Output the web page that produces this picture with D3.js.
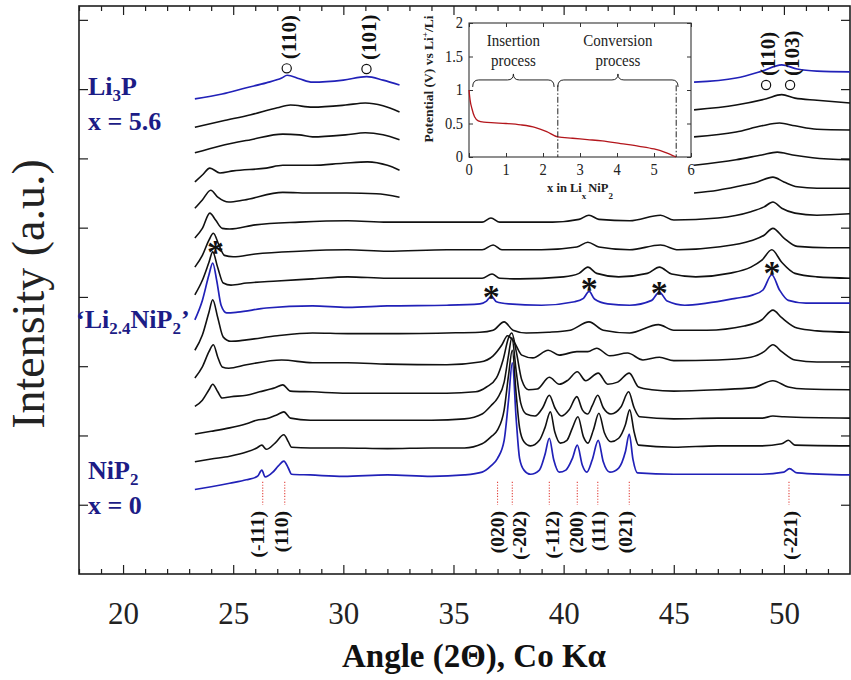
<!DOCTYPE html>
<html>
<head>
<meta charset="utf-8">
<script src="https://cdn.jsdelivr.net/npm/d3@7"></script>
<style>
  body { margin: 0; background: #fff; }
  svg { display: block; font-family: "Liberation Serif", "Times New Roman", serif; }
</style>
</head>
<body>
<svg id="chart" width="851" height="680"></svg>
<script>
// ---------------------------------------------------------------
// In-situ XRD scans of NiP2 during lithiation (Co K-alpha).
// Each scan: [2theta, intensity (a.u.)] relative to its own offset.
// scan01 = NiP2 (x = 0) ... scan15 = Li3P (x = 5.6).
// A null intensity marks where the scan is hidden behind the inset.
// ---------------------------------------------------------------
const scan01 = [[23.26,0],[24.0,0.04],[24.84,0.09],[25.6,0.14],[26.1,0.19],[26.3,0.28],[26.45,0.18],[26.8,0.25],[27.05,0.34],[27.3,0.41],[27.5,0.31],[27.65,0.22],[28.5,0.21],[30,0.19],[32,0.21],[34,0.19],[35.5,0.21],[36.3,0.25],[36.7,0.34],[37.0,0.45],[37.3,0.71],[37.5,1.29],[37.67,1.83],[37.85,1.00],[38.0,0.45],[38.2,0.28],[38.5,0.22],[38.9,0.28],[39.15,0.50],[39.35,0.74],[39.55,0.43],[39.8,0.25],[40.1,0.28],[40.4,0.45],[40.62,0.64],[40.85,0.35],[41.05,0.25],[41.3,0.43],[41.57,0.71],[41.8,0.40],[42.1,0.25],[42.5,0.31],[42.8,0.54],[42.98,0.80],[43.15,0.43],[43.35,0.24],[45,0.22],[47,0.22],[49,0.22],[50.0,0.25],[50.25,0.30],[50.6,0.24],[53,0.21]];
const scan02 = [[23.26,0],[24.0,0.04],[24.84,0.08],[25.6,0.14],[26.07,0.20],[26.3,0.24],[26.5,0.18],[26.9,0.27],[27.3,0.39],[27.5,0.29],[27.65,0.21],[28.5,0.20],[30,0.20],[32,0.19],[34,0.20],[35.5,0.20],[36.3,0.26],[36.7,0.36],[37.0,0.46],[37.3,0.75],[37.5,1.25],[37.67,1.61],[37.85,0.96],[38.0,0.49],[38.2,0.29],[38.5,0.23],[38.9,0.31],[39.15,0.49],[39.4,0.72],[39.6,0.43],[39.85,0.27],[40.15,0.31],[40.4,0.49],[40.65,0.65],[40.9,0.36],[41.1,0.27],[41.35,0.46],[41.6,0.70],[41.85,0.42],[42.15,0.29],[42.5,0.34],[42.8,0.53],[43.0,0.75],[43.2,0.43],[43.4,0.24],[45,0.21],[47,0.23],[49,0.23],[49.9,0.26],[50.2,0.31],[50.5,0.24],[53,0.23]];
const scan03 = [[23.26,0],[24.0,0.04],[24.84,0.09],[25.6,0.15],[26.07,0.20],[26.5,0.22],[27.0,0.28],[27.3,0.32],[27.6,0.23],[28.5,0.20],[30,0.20],[32,0.20],[34,0.20],[35.5,0.22],[36.3,0.29],[36.7,0.41],[37.0,0.52],[37.3,0.75],[37.5,1.14],[37.65,1.39],[37.85,0.90],[38.05,0.45],[38.3,0.29],[38.7,0.26],[39.05,0.38],[39.35,0.56],[39.6,0.38],[39.9,0.26],[40.25,0.35],[40.6,0.54],[40.85,0.35],[41.1,0.29],[41.3,0.41],[41.55,0.56],[41.8,0.38],[42.15,0.29],[42.6,0.39],[42.95,0.61],[43.2,0.38],[43.45,0.25],[45,0.22],[47,0.23],[49,0.23],[49.5,0.26],[50,0.25],[53,0.23]];
const scan04 = [[23.26,0],[23.6,0.09],[23.9,0.24],[24.07,0.32],[24.3,0.21],[24.5,0.12],[24.9,0.14],[25.6,0.16],[26.2,0.21],[26.9,0.27],[27.25,0.31],[27.6,0.22],[28.6,0.21],[30.15,0.19],[32,0.19],[34.7,0.19],[36.0,0.21],[36.5,0.28],[36.95,0.41],[37.25,0.67],[37.5,0.99],[37.65,1.06],[37.85,0.79],[38.1,0.38],[38.4,0.24],[38.8,0.25],[39.35,0.42],[39.8,0.32],[40.2,0.38],[40.62,0.50],[41.0,0.37],[41.57,0.48],[42.0,0.32],[42.45,0.35],[42.98,0.48],[43.4,0.28],[44.0,0.24],[45,0.22],[47,0.24],[48.6,0.27],[49.5,0.37],[50.2,0.28],[51,0.25],[53,0.24]];
const scan05 = [[23.26,0.01],[23.6,0.17],[23.9,0.39],[24.1,0.49],[24.3,0.31],[24.5,0.17],[24.8,0.15],[25.6,0.20],[27.2,0.27],[28.6,0.23],[30.2,0.23],[32,0.21],[34.7,0.20],[36.2,0.24],[36.8,0.33],[37.2,0.49],[37.45,0.62],[37.75,0.53],[38.1,0.34],[38.6,0.30],[39.3,0.41],[39.8,0.34],[40.6,0.39],[41.1,0.39],[41.5,0.44],[42.1,0.33],[42.9,0.37],[43.6,0.27],[44.35,0.31],[45.0,0.26],[47,0.27],[48.5,0.31],[49.1,0.39],[49.5,0.49],[49.9,0.39],[50.5,0.27],[51.5,0.24],[53,0.24]];
const scan06 = [[23.26,0.01],[23.6,0.23],[23.9,0.56],[24.07,0.74],[24.3,0.48],[24.55,0.20],[24.9,0.14],[25.6,0.16],[27,0.22],[28.6,0.26],[30.2,0.25],[32,0.25],[34.7,0.26],[36.2,0.27],[36.8,0.30],[37.3,0.42],[37.7,0.30],[38.3,0.26],[39.3,0.27],[40.3,0.30],[41.15,0.42],[41.8,0.30],[43.0,0.26],[44.3,0.38],[45.0,0.30],[46.5,0.30],[48.2,0.36],[49.0,0.45],[49.5,0.59],[49.9,0.48],[50.6,0.33],[51.5,0.29],[53,0.27]];
const scan07 = [[23.26,0.05],[23.6,0.33],[23.9,0.70],[24.07,0.87],[24.25,0.62],[24.45,0.26],[24.7,0.15],[25.2,0.16],[26.5,0.22],[28.6,0.25],[30.2,0.23],[32,0.25],[34.7,0.26],[36.2,0.28],[36.5,0.32],[36.72,0.39],[36.95,0.31],[37.5,0.28],[39,0.26],[40.5,0.31],[40.9,0.36],[41.16,0.46],[41.4,0.35],[42,0.28],[43,0.26],[44.0,0.33],[44.34,0.45],[44.7,0.32],[45.5,0.26],[46.5,0.29],[47.8,0.36],[48.6,0.41],[49.05,0.48],[49.45,0.70],[49.8,0.48],[50.2,0.33],[51,0.29],[53,0.29]];
const scan08 = [[23.26,0.01],[23.6,0.22],[23.9,0.48],[24.07,0.63],[24.3,0.40],[24.55,0.18],[24.9,0.15],[25.6,0.18],[27,0.21],[28.6,0.24],[30.2,0.27],[32,0.25],[34.7,0.25],[36.3,0.25],[36.75,0.31],[37.1,0.25],[38,0.24],[40,0.27],[40.7,0.32],[41.1,0.41],[41.5,0.32],[42.5,0.27],[43.8,0.32],[44.35,0.41],[44.9,0.31],[46,0.27],[47.5,0.32],[48.5,0.41],[49.0,0.51],[49.45,0.66],[49.9,0.48],[50.5,0.32],[51.5,0.27],[53,0.25]];
const scan09 = [[23.26,0.01],[23.6,0.18],[23.9,0.40],[24.1,0.50],[24.35,0.33],[24.6,0.18],[25.0,0.16],[26,0.20],[28,0.24],[30.2,0.26],[32,0.24],[34.7,0.26],[36.3,0.26],[36.8,0.33],[37.2,0.26],[39,0.26],[40.6,0.30],[41.1,0.37],[41.6,0.30],[43,0.26],[44.4,0.33],[45.2,0.26],[47,0.30],[48.5,0.39],[49.1,0.47],[49.5,0.57],[50.0,0.43],[50.6,0.31],[52,0.29],[53,0.29]];
const scan10 = [[23.26,0.03],[23.6,0.17],[23.94,0.39],[24.2,0.29],[24.5,0.17],[24.84,0.16],[26,0.22],[28,0.26],[30.2,0.28],[32,0.26],[34.7,0.26],[36.3,0.26],[36.7,0.32],[37.1,0.26],[39.5,0.26],[40.7,0.30],[41.15,0.36],[41.6,0.30],[43,0.28],[44.4,0.36],[45,0.29],[47,0.32],[48.5,0.41],[49.1,0.48],[49.5,0.55],[49.9,0.46],[50.5,0.39],[51.5,0.36],[53,0.38]];
const scan11 = [[23.26,0.06],[23.6,0.18],[23.98,0.32],[24.3,0.22],[24.8,0.15],[25.5,0.18],[27.25,0.29],[28.6,0.28],[30.15,0.28],[31.5,0.27],[32.55,0.22],[39,null],[45.92,0.28],[47.0,0.32],[47.83,0.37],[48.8,0.44],[49.5,0.51],[50.0,0.44],[50.6,0.37],[51.5,0.35],[53,0.35]];
const scan12 = [[23.26,0.04],[23.6,0.14],[23.94,0.24],[24.4,0.17],[25,0.20],[26.5,0.24],[27.25,0.28],[28.6,0.28],[30.0,0.31],[31.1,0.33],[32.0,0.28],[32.55,0.21],[39,null],[45.92,0.28],[47.83,0.36],[49.0,0.43],[49.7,0.47],[50.4,0.43],[51.3,0.39],[53,0.36]];
const scan13 = [[23.26,0.06],[24.4,0.16],[25.8,0.25],[27.25,0.33],[28.0,0.32],[28.6,0.29],[30.1,0.32],[31.0,0.35],[31.8,0.32],[32.55,0.25],[39,null],[45.92,0.29],[47.83,0.36],[49.0,0.45],[49.8,0.49],[50.5,0.45],[51.5,0.40],[53,0.39]];
const scan14 = [[23.26,0.03],[24.5,0.12],[25.8,0.21],[27.0,0.31],[27.6,0.35],[28.6,0.32],[30.1,0.35],[31.0,0.38],[31.8,0.34],[32.55,0.25],[39,null],[45.92,0.28],[47.83,0.35],[49.2,0.44],[49.9,0.50],[50.5,0.45],[51.5,0.42],[53,0.38]];
const scan15 = [[23.26,0.04],[24.5,0.11],[25.6,0.20],[26.5,0.27],[27.2,0.34],[27.45,0.38],[28.0,0.33],[28.6,0.28],[30.0,0.31],[31.06,0.36],[31.8,0.31],[32.55,0.24],[39,null],[45.92,0.28],[47.83,0.34],[49.0,0.44],[49.9,0.53],[50.6,0.47],[51.5,0.44],[53,0.43]];

const scans = [scan01, scan02, scan03, scan04, scan05, scan06, scan07, scan08,
               scan09, scan10, scan11, scan12, scan13, scan14, scan15];
// vertical stacking offset of every scan (a.u.)
const offsets = [1.22, 1.62, 2.02, 2.42, 2.82, 3.22, 3.62, 4.02, 4.42, 4.82, 5.22, 5.62, 6.02, 6.42, 6.82];
// scans of the pure / reference phases
const highlighted = [0, 6, 14];

// x-axis ticks
const majorTicks = [20, 25, 30, 35, 40, 45, 50];
const minorTicks = [18, 19, 21, 22, 23, 24, 26, 27, 28, 29, 31, 32, 33, 34, 36, 37, 38, 39, 41, 42, 43, 44, 46, 47, 48, 49, 51, 52];
const intensityTicks = [1, 2, 3, 4, 5, 6, 7, 8];

// NiP2 reflections (label columns are nudged apart where they crowd)
const nip2Hkl    = ["(-111)", "(110)", "(020)", "(-202)", "(-112)", "(200)", "(111)", "(021)", "(-221)"];
const nip2Angles = [26.34, 27.34, 37.0, 37.67, 39.35, 40.62, 41.55, 42.98, 50.23];
const nip2Nudge  = [-6, -4, 0, 7, 3, -1, 0, -4, 1];
// Li3P reflections (open circles) and their marker level
const li3pHkl    = ["(110)", "(101)", "(110)", "(103)"];
const li3pAngles = [27.43, 31.05, 49.19, 50.28];
const li3pLevels = [7.30, 7.29, 7.06, 7.06];
// reflections of the 'Li2.4NiP2' phase (asterisks)
const starAngles = [24.2, 36.72, 41.16, 44.34, 49.46];
const starLevels = [4.72, 4.07, 4.19, 4.13, 4.42];

// Inset: galvanostatic discharge curve
const liContent = [0, 0.03, 0.08, 0.15, 0.25, 0.4, 0.7, 1.0, 1.4, 1.8, 2.1, 2.4, 2.8, 3.2, 3.6, 4.1, 4.6, 5.0, 5.3, 5.6];
const potential = [1.0, 0.85, 0.72, 0.60, 0.54, 0.52, 0.51, 0.50, 0.48, 0.44, 0.38, 0.30, 0.28, 0.26, 0.24, 0.20, 0.16, 0.12, 0.07, 0.0];
const stageNames  = [["Insertion", "process"], ["Conversion", "process"]];
const stageRanges = [[0.1, 2.3], [2.4, 5.65]];
const stageLimits = [2.4, 5.6];

// ---------------------------------------------------------------
const svg = d3.select("#chart");
const X0 = 79, X1 = 850, Y0 = 6, Y1 = 574;
const x = d3.scaleLinear().domain([18, 53]).range([X0, X1]);
const y = d3.scaleLinear().domain([0, 8.2]).range([Y1, Y0]);
const INK = "#1e1e1e";
const BLUE = "#2121b8";
const NAVY = "#1c1c86";

// ---- axes (inward ticks on all four sides) ----
function styleAxis(g) {
  g.select(".domain").remove();
  g.selectAll(".tick line").attr("stroke", INK).attr("stroke-width", 1.2);
}
svg.append("g").attr("transform", `translate(0,${Y1})`)
  .call(d3.axisBottom(x).tickValues(majorTicks).tickSize(-9).tickPadding(28).tickFormat(d3.format("d")))
  .call(styleAxis)
  .call(g => g.selectAll("text").attr("font-size", 31).attr("fill", "#222")
    .attr("font-family", "Liberation Serif, serif"));
svg.append("g").attr("transform", `translate(0,${Y1})`)
  .call(d3.axisBottom(x).tickValues(minorTicks).tickSize(-5).tickFormat(""))
  .call(styleAxis);
svg.append("g").attr("transform", `translate(0,${Y0})`)
  .call(d3.axisTop(x).tickValues(majorTicks).tickSize(-9).tickFormat(""))
  .call(styleAxis);
svg.append("g").attr("transform", `translate(0,${Y0})`)
  .call(d3.axisTop(x).tickValues(minorTicks).tickSize(-5).tickFormat(""))
  .call(styleAxis);
svg.append("g").attr("transform", `translate(${X0},0)`)
  .call(d3.axisLeft(y).tickValues(intensityTicks).tickSize(-9).tickFormat(""))
  .call(styleAxis);
svg.append("g").attr("transform", `translate(${X1},0)`)
  .call(d3.axisRight(y).tickValues(intensityTicks).tickSize(-9).tickFormat(""))
  .call(styleAxis);

svg.append("rect").attr("x", X0).attr("y", Y0).attr("width", X1 - X0).attr("height", Y1 - Y0)
  .attr("fill", "none").attr("stroke", INK).attr("stroke-width", 1.6);

// ---- axis titles ----
svg.append("text").attr("x", 474).attr("y", 667).attr("text-anchor", "middle")
  .attr("font-size", 33).attr("font-weight", "bold").attr("fill", "#111")
  .text("Angle (2Θ), Co Kα");
svg.append("text").attr("transform", "translate(44,294) rotate(-90)").attr("text-anchor", "middle")
  .attr("font-size", 46).attr("fill", "#222")
  .text("Intensity (a.u.)");

// ---- stacked scans ----
const scanG = svg.append("g");
scans.forEach((scan, i) => {
  const line = d3.line()
    .defined(d => d[1] !== null)
    .x(d => x(d[0]))
    .y(d => y(offsets[i] + d[1]))
    .curve(d3.curveMonotoneX);
  const isRef = highlighted.includes(i);
  scanG.append("path").datum(scan)
    .attr("d", line)
    .attr("fill", "none")
    .attr("stroke", isRef ? BLUE : "#111")
    .attr("stroke-width", isRef ? 1.7 : 1.6)
    .attr("stroke-linejoin", "round");
});

// ---- NiP2 reflections: red dotted guides + rotated hkl ----
const hklG = svg.append("g");
nip2Angles.forEach((a, i) => {
  hklG.append("line")
    .attr("x1", x(a)).attr("x2", x(a))
    .attr("y1", y(1.33)).attr("y2", y(1.0))
    .attr("stroke", "#e0403a").attr("stroke-width", 1.1).attr("stroke-dasharray", "1.2,1.6");
  hklG.append("text")
    .attr("transform", `translate(${x(a) + nip2Nudge[i]},${y(0.91)}) rotate(-90)`)
    .attr("text-anchor", "end").attr("dy", "0.35em")
    .attr("font-size", 19.5).attr("font-weight", "bold").attr("fill", "#111")
    .text(nip2Hkl[i]);
});

// ---- Li3P reflections ----
li3pAngles.forEach((a, i) => {
  const cy = y(li3pLevels[i]);
  hklG.append("circle").attr("cx", x(a)).attr("cy", cy).attr("r", 4.6)
    .attr("fill", "#fff").attr("stroke", "#111").attr("stroke-width", 1.2);
  hklG.append("text")
    .attr("transform", `translate(${x(a) + 2},${cy - 9}) rotate(-90)`)
    .attr("text-anchor", "start").attr("dy", "0.35em")
    .attr("font-size", 21).attr("font-weight", "bold").attr("fill", "#111")
    .text(li3pHkl[i]);
});

// ---- 'Li2.4NiP2' reflections ----
starAngles.forEach((a, i) => {
  hklG.append("text").attr("x", x(a)).attr("y", y(starLevels[i]) + 16)
    .attr("text-anchor", "middle").attr("font-size", 34).attr("font-weight", "bold")
    .attr("fill", "#111").text("*");
});

// ---- phase labels ----
function phaseLabel(px, py, parts) {
  const t = svg.append("text").attr("x", px).attr("y", py)
    .attr("font-size", 26).attr("font-weight", "bold").attr("fill", NAVY);
  let shift = 0;
  parts.forEach(([txt, sub]) => {
    const dy = sub ? 6 - shift : -shift;
    shift = sub ? 6 : 0;
    t.append("tspan").attr("dy", dy).attr("font-size", sub ? 17 : 26).text(txt);
  });
}
phaseLabel(88, 95, [["Li", false], ["3", true], ["P", false]]);
phaseLabel(88, 130, [["x = 5.6", false]]);
phaseLabel(76, 328, [["‘Li", false], ["2.4", true], ["NiP", false], ["2", true], ["’", false]]);
phaseLabel(88, 479, [["NiP", false], ["2", true]]);
phaseLabel(88, 514, [["x = 0", false]]);

// ---- Inset: potential vs lithium content ----
const ix = d3.scaleLinear().domain([0, 6]).range([469, 691]);
const iy = d3.scaleLinear().domain([0, 2]).range([157, 23]);
const inset = svg.append("g");
inset.append("rect").attr("x", 469).attr("y", 23).attr("width", 222).attr("height", 134)
  .attr("fill", "#fff").attr("stroke", "#333").attr("stroke-width", 1.1);

function styleInset(g) {
  g.select(".domain").remove();
  g.selectAll(".tick line").attr("stroke", "#333").attr("stroke-width", 1);
}
inset.append("g").attr("transform", "translate(0,157)")
  .call(d3.axisBottom(ix).tickValues(d3.range(0, 7)).tickSize(-4).tickFormat("")).call(styleInset);
inset.append("g").attr("transform", "translate(0,23)")
  .call(d3.axisTop(ix).tickValues(d3.range(0, 7)).tickSize(-4).tickFormat("")).call(styleInset);
inset.append("g").attr("transform", "translate(469,0)")
  .call(d3.axisLeft(iy).tickValues([0, 0.5, 1, 1.5, 2]).tickSize(-4).tickFormat("")).call(styleInset);
inset.append("g").attr("transform", "translate(691,0)")
  .call(d3.axisRight(iy).tickValues([0, 0.5, 1, 1.5, 2]).tickSize(-4).tickFormat("")).call(styleInset);

// inset labels are drawn a little tall, as in the original figure
function insetText(px, py, str, anchor, size, bold) {
  return inset.append("text")
    .attr("transform", `translate(${px},${py}) scale(1,1.15)`)
    .attr("text-anchor", anchor).attr("font-size", size)
    .attr("font-weight", bold ? "bold" : "normal").attr("fill", "#222").text(str);
}
d3.range(0, 7).forEach(v => insetText(ix(v), 175, String(v), "middle", 14.5, false));
[0, 0.5, 1, 1.5, 2].forEach(v => insetText(463, iy(v) + 5, String(v), "end", 14.5, false));

// x title with subscripts
const xt = inset.append("text").attr("transform", "translate(580,192)")
  .attr("text-anchor", "middle").attr("font-size", 12.5).attr("font-weight", "bold").attr("fill", "#222");
xt.append("tspan").text("x in Li");
xt.append("tspan").attr("dy", 7).attr("font-size", 9).text("x");
xt.append("tspan").attr("dy", -7).attr("dx", 2).text("NiP");
xt.append("tspan").attr("dy", 7).attr("font-size", 9).text("2");

// y title
const yt = inset.append("text").attr("transform", "translate(433,79) rotate(-90)")
  .attr("text-anchor", "middle").attr("font-size", 13.5).attr("font-weight", "bold").attr("fill", "#222");
yt.append("tspan").text("Potential (V) vs Li");
yt.append("tspan").attr("dy", -5).attr("font-size", 9).text("+");
yt.append("tspan").attr("dy", 5).text("/Li");

// discharge curve
inset.append("path").datum(liContent.map((v, i) => [v, potential[i]]))
  .attr("d", d3.line().x(d => ix(d[0])).y(d => iy(d[1])).curve(d3.curveMonotoneX))
  .attr("fill", "none").attr("stroke", "#b3161c").attr("stroke-width", 1.3);

// stage limits (dash-dot)
stageLimits.forEach(v => {
  inset.append("line").attr("x1", ix(v)).attr("x2", ix(v))
    .attr("y1", iy(1.07)).attr("y2", iy(0))
    .attr("stroke", "#222").attr("stroke-width", 1).attr("stroke-dasharray", "6,2,1.5,2");
});

// braces + stage names
stageRanges.forEach(([a, b], i) => {
  const xa = ix(a), xb = ix(b), xm = (xa + xb) / 2, yb = iy(1.15);
  const p = `M${xa},${yb + 7} Q${xa},${yb} ${xa + 6},${yb} L${xm - 6},${yb} Q${xm},${yb} ${xm},${yb - 6}` +
            ` Q${xm},${yb} ${xm + 6},${yb} L${xb - 6},${yb} Q${xb},${yb} ${xb},${yb + 7}`;
  inset.append("path").attr("d", p).attr("fill", "none").attr("stroke", "#222").attr("stroke-width", 1);
  insetText(xm, 46, stageNames[i][0], "middle", 15, false);
  insetText(xm, 66, stageNames[i][1], "middle", 15, false);
});
</script>
</body>
</html>
